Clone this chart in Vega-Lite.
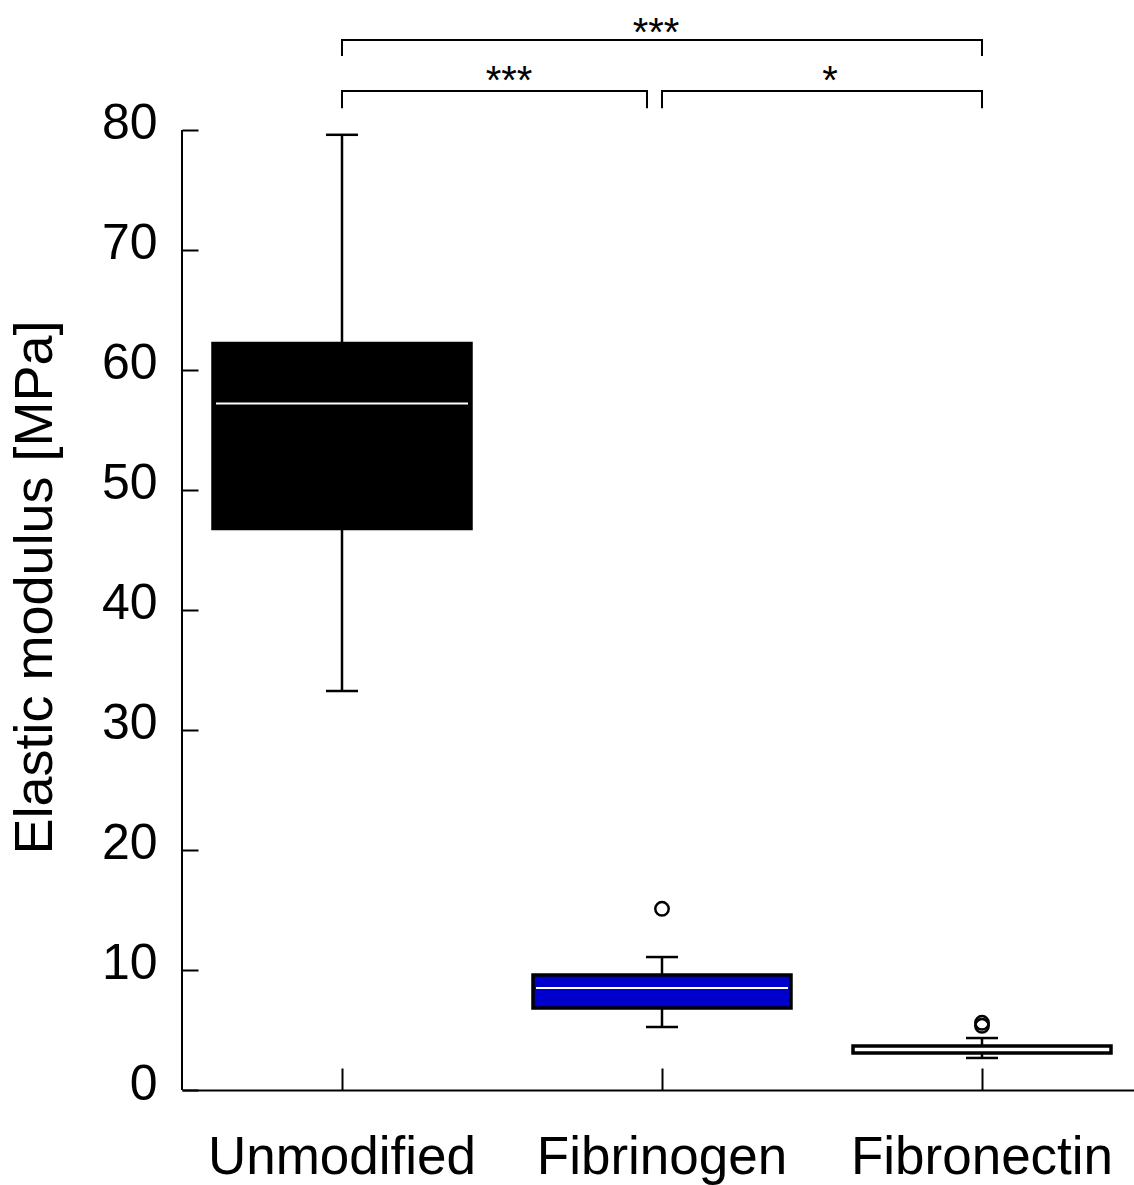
{
  "$schema": "https://vega.github.io/schema/vega-lite/v6.json",
  "autosize": {"type": "none"},
  "padding": {"left": 182, "top": 0, "right": 0, "bottom": 95},
  "width": 952,
  "height": 1090,
  "background": "white",
  "config": {
    "font": "Liberation Sans",
    "view": {"stroke": null},
    "axis": {"grid": false}
  },
  "datasets": {
    "boxes": [
      {"group": "Unmodified", "lower": 33.25, "q1": 46.8, "median": 57.2, "q3": 62.2, "upper": 79.6},
      {"group": "Fibrinogen", "lower": 5.25, "q1": 6.83, "median": 8.5, "q3": 9.58, "upper": 11.08},
      {"group": "Fibronectin", "lower": 2.67, "q1": 3.08, "median": 3.375, "q3": 3.67, "upper": 4.33}
    ],
    "outliers": [
      {"group": "Fibrinogen", "value": 15.1},
      {"group": "Fibronectin", "value": 5.6},
      {"group": "Fibronectin", "value": 5.35}
    ],
    "hlines": [
      {"a": "Unmodified", "b": "Fibronectin", "y": 87.5},
      {"a": "Fibrinogen", "b": "Fibronectin", "y": 83.25}
    ],
    "hlinesShort": [
      {"a": "Unmodified", "b": "Fibrinogen", "y": 83.25}
    ],
    "drops": [
      {"g": "Unmodified", "y": 87.5, "y2": 86.25},
      {"g": "Fibronectin", "y": 87.5, "y2": 86.25},
      {"g": "Unmodified", "y": 83.25, "y2": 81.9},
      {"g": "Fibrinogen", "y": 83.25, "y2": 81.9},
      {"g": "Fibronectin", "y": 83.25, "y2": 81.9}
    ],
    "dropsShort": [
      {"g": "Fibrinogen", "y": 83.25, "y2": 81.9}
    ],
    "axisLine": [{"from": 0, "to": 80}]
  },
  "encoding": {
    "x": {
      "field": "group",
      "type": "nominal",
      "sort": ["Unmodified", "Fibrinogen", "Fibronectin"],
      "scale": {"domain": ["Unmodified", "Fibrinogen", "Fibronectin"], "range": [0, 960], "paddingInner": 0, "paddingOuter": 0},
      "axis": {
        "title": null,
        "labelAngle": 0,
        "labelFontSize": 53,
        "labelColor": "black",
        "labelLimit": 0,
        "labelPadding": 63,
        "tickSize": -22,
        "tickColor": "black",
        "tickWidth": 2,
        "domainColor": "black",
        "domainWidth": 2
      }
    }
  },
  "layer": [
    {
      "data": {"name": "axisLine"},
      "mark": {"type": "rule", "color": "black", "strokeWidth": 2},
      "encoding": {
        "x": {"value": 0},
        "y": {"field": "from", "type": "quantitative", "scale": {"domain": [0, 90.8333], "nice": false, "zero": false},
          "axis": {
            "values": [0, 10, 20, 30, 40, 50, 60, 70, 80],
            "domain": false,
            "tickSize": -16,
            "tickColor": "black",
            "tickWidth": 2,
            "labelFontSize": 50,
            "labelColor": "black",
            "labelPadding": 41,
            "labelOffset": -6,
            "title": "Elastic modulus [MPa]",
            "titleFontSize": 54,
            "titleFontWeight": "normal",
            "titleColor": "black",
            "titleAngle": -90,
            "titleAlign": "center",
            "titleBaseline": "bottom",
            "titleX": -120,
            "titleY": 587
          }
        },
        "y2": {"field": "to"}
      }
    },
    {
      "data": {"name": "boxes"},
      "mark": {"type": "rule", "color": "black", "strokeWidth": 2.5},
      "encoding": {
        "x": {"field": "group", "type": "nominal"},
        "y": {"field": "lower", "type": "quantitative"},
        "y2": {"field": "upper"}
      }
    },
    {
      "data": {"name": "boxes"},
      "mark": {"type": "bar", "width": 258, "stroke": "black", "strokeWidth": 3.5},
      "encoding": {
        "x": {"field": "group", "type": "nominal"},
        "y": {"field": "q1", "type": "quantitative"},
        "y2": {"field": "q3"},
        "fill": {
          "field": "group",
          "type": "nominal",
          "scale": {"domain": ["Unmodified", "Fibrinogen", "Fibronectin"], "range": ["#000000", "#0000cc", "#ffffff"]},
          "legend": null
        }
      }
    },
    {
      "data": {"name": "boxes"},
      "mark": {"type": "tick", "color": "white", "size": 252, "thickness": 2, "opacity": 1},
      "encoding": {
        "x": {"field": "group", "type": "nominal"},
        "y": {"field": "median", "type": "quantitative"}
      }
    },
    {
      "data": {"name": "boxes"},
      "mark": {"type": "tick", "color": "black", "size": 32, "thickness": 2.5, "opacity": 1},
      "encoding": {
        "x": {"field": "group", "type": "nominal"},
        "y": {"field": "lower", "type": "quantitative"}
      }
    },
    {
      "data": {"name": "boxes"},
      "mark": {"type": "tick", "color": "black", "size": 32, "thickness": 2.5, "opacity": 1},
      "encoding": {
        "x": {"field": "group", "type": "nominal"},
        "y": {"field": "upper", "type": "quantitative"}
      }
    },
    {
      "data": {"name": "outliers"},
      "mark": {"type": "point", "shape": "circle", "filled": false, "stroke": "black", "strokeWidth": 2.5, "size": 180, "opacity": 1},
      "encoding": {
        "x": {"field": "group", "type": "nominal"},
        "y": {"field": "value", "type": "quantitative"}
      }
    },
    {
      "data": {"name": "hlines"},
      "mark": {"type": "rule", "color": "black", "strokeWidth": 2, "strokeCap": "square"},
      "encoding": {
        "x": {"field": "a", "type": "nominal", "bandPosition": 0.5},
        "x2": {"field": "b", "bandPosition": 0.5},
        "y": {"field": "y", "type": "quantitative"}
      }
    },
    {
      "data": {"name": "hlinesShort"},
      "mark": {"type": "rule", "color": "black", "strokeWidth": 2, "strokeCap": "square", "x2Offset": -15},
      "encoding": {
        "x": {"field": "a", "type": "nominal", "bandPosition": 0.5},
        "x2": {"field": "b", "bandPosition": 0.5},
        "y": {"field": "y", "type": "quantitative"}
      }
    },
    {
      "data": {"name": "drops"},
      "mark": {"type": "rule", "color": "black", "strokeWidth": 2, "strokeCap": "square"},
      "encoding": {
        "x": {"field": "g", "type": "nominal"},
        "y": {"field": "y", "type": "quantitative"},
        "y2": {"field": "y2"}
      }
    },
    {
      "data": {"name": "dropsShort"},
      "mark": {"type": "rule", "color": "black", "strokeWidth": 2, "strokeCap": "square", "xOffset": -15},
      "encoding": {
        "x": {"field": "g", "type": "nominal"},
        "y": {"field": "y", "type": "quantitative"},
        "y2": {"field": "y2"}
      }
    },
    {
      "data": {"values": [{"g": "Fibrinogen", "y": 87.0, "label": "***"}]},
      "mark": {"type": "text", "fontSize": 40, "color": "black", "align": "center", "baseline": "alphabetic", "dx": -6},
      "encoding": {
        "x": {"field": "g", "type": "nominal"},
        "y": {"field": "y", "type": "quantitative"},
        "text": {"field": "label"}
      }
    },
    {
      "data": {"values": [{"g": "Unmodified", "y": 83.0, "label": "***"}]},
      "mark": {"type": "text", "fontSize": 40, "color": "black", "align": "center", "baseline": "alphabetic", "dx": 167},
      "encoding": {
        "x": {"field": "g", "type": "nominal"},
        "y": {"field": "y", "type": "quantitative"},
        "text": {"field": "label"}
      }
    },
    {
      "data": {"values": [{"g": "Fibrinogen", "y": 83.0, "label": "*"}]},
      "mark": {"type": "text", "fontSize": 40, "color": "black", "align": "center", "baseline": "alphabetic", "dx": 168},
      "encoding": {
        "x": {"field": "g", "type": "nominal"},
        "y": {"field": "y", "type": "quantitative"},
        "text": {"field": "label"}
      }
    }
  ]
}
